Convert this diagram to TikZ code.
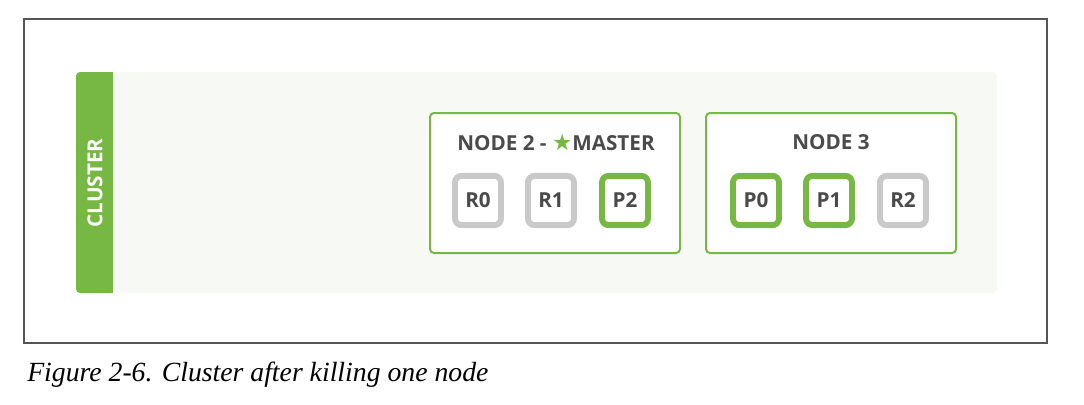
\documentclass[tikz,border=0pt]{standalone}
\usepackage{fontspec}
\newfontfamily\labelfont{Open Sans}
\newfontfamily\symbolfont{DejaVu Sans}
\newfontfamily\captionfont{Liberation Serif}
\usetikzlibrary{positioning}

\definecolor{esgreen}{HTML}{76B843}
\definecolor{esgray}{HTML}{C9C9C9}
\definecolor{estext}{HTML}{4A4A4A}
\definecolor{panelbg}{HTML}{F7F9F4}
\definecolor{framegray}{HTML}{555555}

\tikzset{
    nodebox/.style={draw=esgreen, line width=1.5pt, fill=white, rounded corners=3pt,
        minimum width=187.5pt, minimum height=105pt, inner sep=0pt},
    nodetitle/.style={text=estext, font=\labelfont\bfseries\fontsize{15.5}{17}\selectfont, inner sep=0pt},
    shardbox/.style={line width=4.4pt, fill=white, rounded corners=5pt,
        minimum width=34.5pt, minimum height=37pt, inner sep=0pt, text=estext,
        font=\labelfont\bfseries\fontsize{15.5}{17}\selectfont},
    replica/.style={shardbox, draw=esgray},
    primary/.style={shardbox, draw=esgreen}
}

\begin{document}
\begin{tikzpicture}[x=0.75pt, y=-0.75pt]
    % Define dimensions
    \def\shardrow{200.5}
    \useasboundingbox (0,0) rectangle (1084,404);
    % Outer frame
    \draw[framegray, line width=0.8pt] (24,19) rectangle (1047,343);
    % Cluster panel
    \fill[panelbg, rounded corners=3pt] (76,72) rectangle (997,293);
    \fill[esgreen, rounded corners=3pt] (76,72) rectangle (113,293);
    \fill[esgreen] (100,72) rectangle (113,293);
    \node[rotate=90, text=white, font=\labelfont\bfseries\fontsize{15.5}{17}\selectfont, inner sep=0pt]
        (clusterlabel) at (95,183) {CLUSTER};
    % Nodes
    \node[nodebox] (node2) at (555,183) {};
    \node[nodebox] (node3) at (831,183) {};
    \node[nodetitle] (title2) at (556,142)
        {NODE 2 - {\symbolfont\color{esgreen}\fontsize{17}{17}\selectfont ★}MASTER};
    \node[nodetitle] (title3) at (831,142) {NODE 3};
    % Shards
    \foreach \name/\x/\kind in {R0/478/replica, R1/551/replica, P2/625/primary,
                                P0/756/primary, P1/829/primary, R2/903/replica}
        \node[\kind] (\name) at (\x,\shardrow) {\name};
    % Caption
    \node[anchor=base west, inner sep=0pt, font=\captionfont\itshape\fontsize{20.8}{24}\selectfont]
        (caption) at (27,381) {Figure 2-6. Cluster after killing one node};
\end{tikzpicture}
\end{document}
